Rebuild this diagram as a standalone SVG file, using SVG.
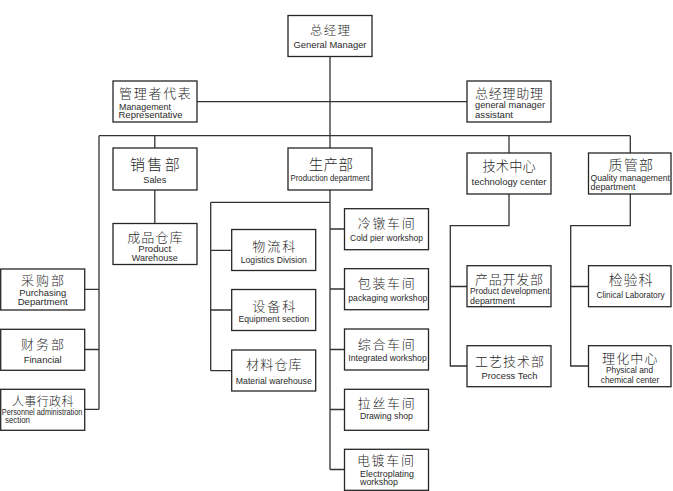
<svg xmlns="http://www.w3.org/2000/svg" width="673" height="491" viewBox="0 0 673 491">
<style>
.box{fill:#fff;stroke:#262626;stroke-width:1.3}
.ln{fill:none;stroke:#333;stroke-width:1.3}
.cn{font-family:"Noto Sans CJK SC","Noto Sans CJK JP",sans-serif;font-weight:300;fill:#2a2a2a;text-anchor:middle}
.en{font-family:"Liberation Sans",Arial,sans-serif;font-size:9px;fill:#2a2a2a}
.m{text-anchor:middle}
</style>
<rect width="673" height="491" fill="#fff"/>
<g id="connectors">
<path class="ln" d="M330 56.5V148M197 101.7H467M99 135.7H630.3M154.8 135.7V148M509 135.7V153M630.3 135.7V153"/>
<path class="ln" d="M99 135.7V409.3M84.7 289.3H99M84.7 349.5H99M84.7 409.3H99"/>
<path class="ln" d="M154.8 190V223.5"/>
<path class="ln" d="M330 190V469.5M210.7 202.3H330M210.7 202.3V370.7M210.7 250.3H231.7M210.7 310H231.7M210.7 370.7H231.7M330 229H344.5M330 289H344.5M330 349.5H344.5M330 409.5H344.5M330 469.5H344.5"/>
<path class="ln" d="M509 194V225.7H450.3V366H467M450.3 286.5H467"/>
<path class="ln" d="M630.3 194V225.7H570.7V366H588.5M570.7 286.5H588.5"/>
</g>
<g id="gm"><rect class="box" x="288" y="15.5" width="84" height="41"/>
<text class="cn" x="330.6" y="34.5" font-size="12.5" letter-spacing="1.2">总经理</text>
<text class="en m" x="330" y="48" textLength="73" lengthAdjust="spacingAndGlyphs">General Manager</text></g>
<g id="mgmt-rep"><rect class="box" x="113" y="81" width="84" height="41"/>
<text class="cn" x="155.8" y="97.5" font-size="13" letter-spacing="1.7">管理者代表</text>
<text class="en" x="119" y="109.6" font-size="8.3" textLength="52" lengthAdjust="spacingAndGlyphs">Management</text>
<text class="en" x="118.5" y="117.8" font-size="8.3" textLength="64" lengthAdjust="spacingAndGlyphs">Representative</text></g>
<g id="gm-assistant"><rect class="box" x="467" y="81" width="84" height="41"/>
<text class="cn" x="509.4" y="97.5" font-size="13" letter-spacing="0.8">总经理助理</text>
<text class="en" x="475" y="108" textLength="70" lengthAdjust="spacingAndGlyphs">general manager</text>
<text class="en" x="475" y="117.5" textLength="38" lengthAdjust="spacingAndGlyphs">assistant</text></g>
<g id="sales"><rect class="box" x="113" y="148" width="84" height="42"/>
<text class="cn" x="156" y="169.5" font-size="15" letter-spacing="2.4">销售部</text>
<text class="en m" x="154.8" y="182.7" textLength="23" lengthAdjust="spacingAndGlyphs">Sales</text></g>
<g id="production"><rect class="box" x="288" y="148" width="84" height="42"/>
<text class="cn" x="331" y="169.5" font-size="14.5" letter-spacing="0.3">生产部</text>
<text class="en m" x="330" y="181" textLength="79" lengthAdjust="spacingAndGlyphs">Production department</text></g>
<g id="tech-center"><rect class="box" x="467" y="153" width="84" height="41"/>
<text class="cn" x="509.2" y="171" font-size="13.2" letter-spacing="0.2">技术中心</text>
<text class="en m" x="509" y="185" textLength="75" lengthAdjust="spacingAndGlyphs">technology center</text></g>
<g id="quality"><rect class="box" x="588.5" y="153" width="82.5" height="41"/>
<text class="cn" x="631.4" y="169.5" font-size="14" letter-spacing="1.2">质管部</text>
<text class="en" x="590.5" y="180.5" textLength="79.5" lengthAdjust="spacingAndGlyphs">Quality management</text>
<text class="en" x="590.5" y="189.5" textLength="45" lengthAdjust="spacingAndGlyphs">department</text></g>
<g id="product-warehouse"><rect class="box" x="113" y="223.5" width="84" height="41"/>
<text class="cn" x="155.4" y="242.3" font-size="13" letter-spacing="1.1">成品仓库</text>
<text class="en m" x="154.8" y="252.4" font-size="8.5" textLength="33" lengthAdjust="spacingAndGlyphs">Product</text>
<text class="en m" x="154.8" y="260.9" font-size="8.5" textLength="46" lengthAdjust="spacingAndGlyphs">Warehouse</text></g>
<g id="purchasing"><rect class="box" x="0.7" y="269" width="84" height="41"/>
<text class="cn" x="43.5" y="285.3" font-size="13" letter-spacing="2">采购部</text>
<text class="en m" x="42.7" y="295.6" textLength="47" lengthAdjust="spacingAndGlyphs">Purchasing</text>
<text class="en m" x="42.7" y="304.6" textLength="50" lengthAdjust="spacingAndGlyphs">Department</text></g>
<g id="financial"><rect class="box" x="0.7" y="329.3" width="84" height="41"/>
<text class="cn" x="43.5" y="348.5" font-size="13" letter-spacing="2">财务部</text>
<text class="en m" x="42.7" y="362.5" textLength="38" lengthAdjust="spacingAndGlyphs">Financial</text></g>
<g id="personnel"><rect class="box" x="0.7" y="389.3" width="84" height="41"/>
<text class="cn" x="42.9" y="405.6" font-size="12" letter-spacing="0.4">人事行政科</text>
<text class="en" x="1.8" y="415.3" font-size="7.6" textLength="80.5" lengthAdjust="spacingAndGlyphs">Personnel administration</text>
<text class="en" x="5" y="423.2" font-size="7.6" textLength="25" lengthAdjust="spacingAndGlyphs">section</text></g>
<g id="logistics"><rect class="box" x="231.7" y="229.5" width="84" height="41"/>
<text class="cn" x="274.8" y="251" font-size="13" letter-spacing="2">物流科</text>
<text class="en m" x="273.8" y="263" textLength="66" lengthAdjust="spacingAndGlyphs">Logistics Division</text></g>
<g id="equipment"><rect class="box" x="231.7" y="289.5" width="84" height="41"/>
<text class="cn" x="274.8" y="310.5" font-size="13" letter-spacing="2">设备科</text>
<text class="en m" x="273.8" y="321.5" textLength="70.5" lengthAdjust="spacingAndGlyphs">Equipment section</text></g>
<g id="material-warehouse"><rect class="box" x="231.7" y="350" width="84" height="41"/>
<text class="cn" x="274.4" y="369.3" font-size="13" letter-spacing="1.2">材料仓库</text>
<text class="en m" x="273.8" y="383.5" textLength="76" lengthAdjust="spacingAndGlyphs">Material warehouse</text></g>
<g id="cold-pier"><rect class="box" x="344.5" y="208.7" width="84" height="41"/>
<text class="cn" x="387.1" y="228.3" font-size="13" letter-spacing="1.7">冷镦车间</text>
<text class="en m" x="386.5" y="240.8" textLength="73" lengthAdjust="spacingAndGlyphs">Cold pier workshop</text></g>
<g id="packaging"><rect class="box" x="344.5" y="268.7" width="84" height="41"/>
<text class="cn" x="387.1" y="288.3" font-size="13" letter-spacing="1.7">包装车间</text>
<text class="en m" x="387.8" y="301" textLength="79" lengthAdjust="spacingAndGlyphs">packaging workshop</text></g>
<g id="integrated"><rect class="box" x="344.5" y="329" width="84" height="41"/>
<text class="cn" x="387.1" y="348.6" font-size="13" letter-spacing="1.7">综合车间</text>
<text class="en m" x="387.5" y="360.8" textLength="78.5" lengthAdjust="spacingAndGlyphs">Integrated workshop</text></g>
<g id="drawing"><rect class="box" x="344.5" y="389.3" width="84" height="41"/>
<text class="cn" x="387.1" y="408.3" font-size="13" letter-spacing="1.7">拉丝车间</text>
<text class="en m" x="386.4" y="418.8" textLength="53" lengthAdjust="spacingAndGlyphs">Drawing shop</text></g>
<g id="electroplating"><rect class="box" x="344.5" y="449.3" width="84" height="41"/>
<text class="cn" x="386.3" y="465.3" font-size="13" letter-spacing="1.7">电镀车间</text>
<text class="en" x="360" y="476.8" textLength="54" lengthAdjust="spacingAndGlyphs">Electroplating</text>
<text class="en" x="360" y="485.3" textLength="38" lengthAdjust="spacingAndGlyphs">workshop</text></g>
<g id="product-dev"><rect class="box" x="467" y="265.7" width="84" height="41"/>
<text class="cn" x="509.4" y="283.6" font-size="13" letter-spacing="0.8">产品开发部</text>
<text class="en" x="470" y="293.5" textLength="79.5" lengthAdjust="spacingAndGlyphs">Product development</text>
<text class="en" x="470" y="303.5" textLength="45" lengthAdjust="spacingAndGlyphs">department</text></g>
<g id="process-tech"><rect class="box" x="467" y="345.7" width="84" height="41"/>
<text class="cn" x="509.9" y="366" font-size="13" letter-spacing="1">工艺技术部</text>
<text class="en m" x="509.5" y="378.5" textLength="56" lengthAdjust="spacingAndGlyphs">Process Tech</text></g>
<g id="clinical"><rect class="box" x="588.5" y="265.7" width="82.5" height="41"/>
<text class="cn" x="631" y="285" font-size="14" letter-spacing="0.9">检验科</text>
<text class="en m" x="630.5" y="297.5" textLength="68" lengthAdjust="spacingAndGlyphs">Clinical Laboratory</text></g>
<g id="physical-chemical"><rect class="box" x="588.5" y="345.7" width="82.5" height="41"/>
<text class="cn" x="630.3" y="362.5" font-size="13" letter-spacing="1.1">理化中心</text>
<text class="en m" x="629.5" y="372.8" textLength="47" lengthAdjust="spacingAndGlyphs">Physical and</text>
<text class="en m" x="630" y="382.5" textLength="58.5" lengthAdjust="spacingAndGlyphs">chemical center</text></g>
</svg>
